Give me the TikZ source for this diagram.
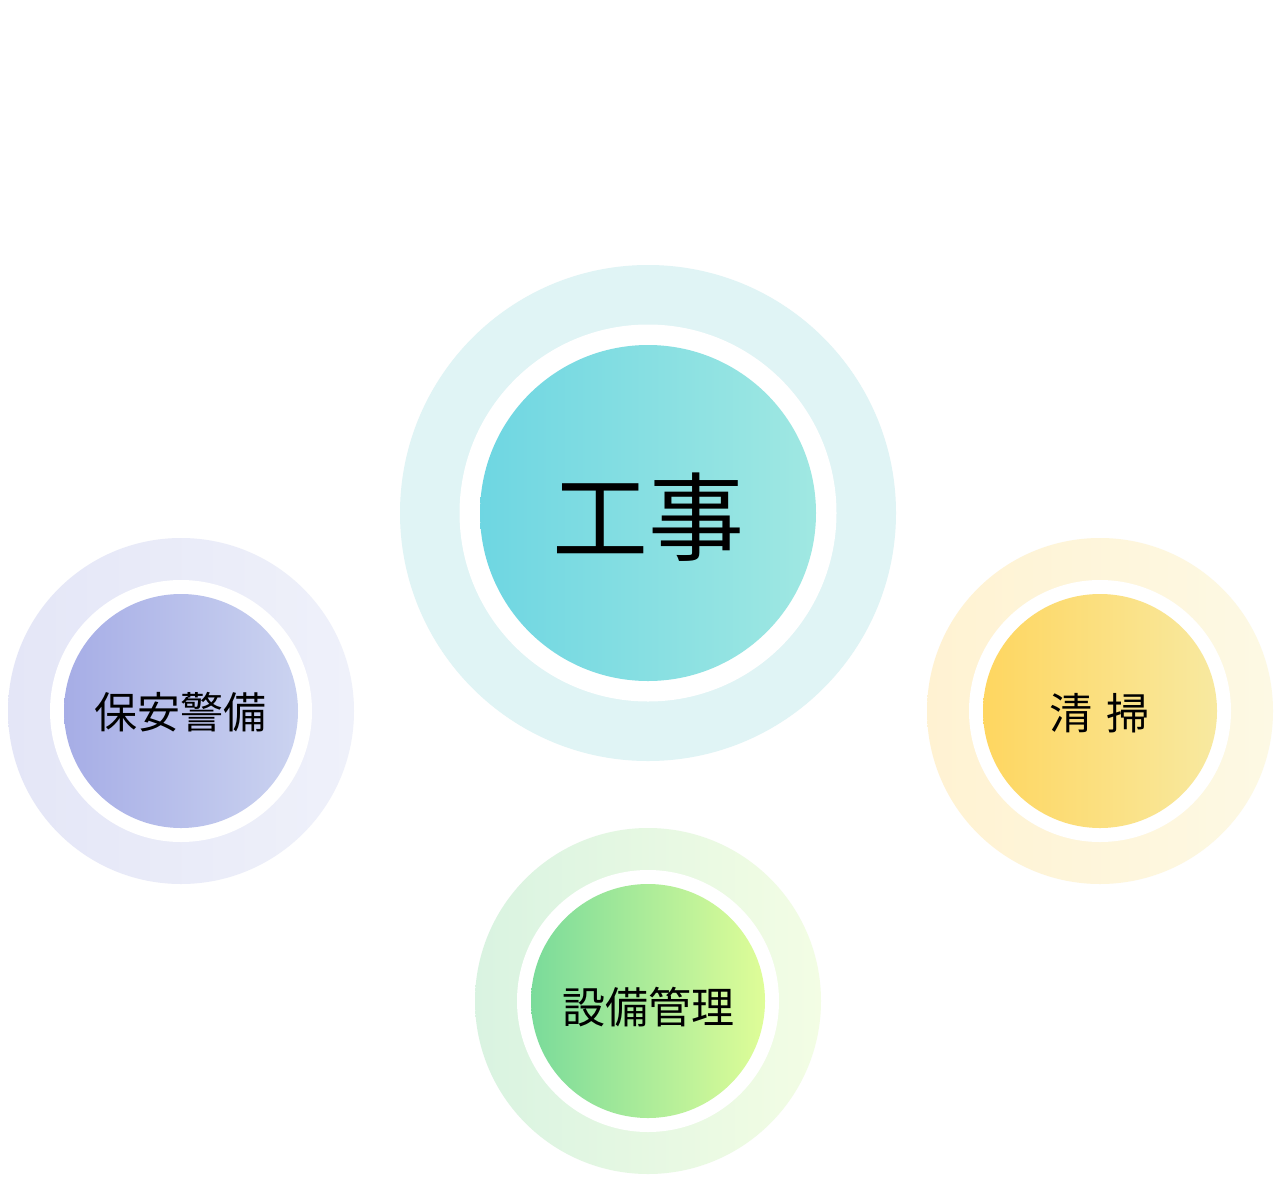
\documentclass[tikz,border=0pt]{standalone}
\usepackage{fontspec}
\newfontfamily\jp{Noto Sans CJK JP}
\definecolor{cyanL}{HTML}{6ED6E2}
\definecolor{cyanR}{HTML}{A0E8E2}
\definecolor{cyanRing}{HTML}{E0F4F5}
\definecolor{blueL}{HTML}{A6ADE6}
\definecolor{blueR}{HTML}{CBD3F0}
\definecolor{blueRingL}{HTML}{E4E6F7}
\definecolor{blueRingR}{HTML}{EFF1FA}
\definecolor{yelL}{HTML}{FED660}
\definecolor{yelR}{HTML}{F8E9A0}
\definecolor{yelRingL}{HTML}{FFF2D2}
\definecolor{yelRingR}{HTML}{FDF9E4}
\definecolor{grnL}{HTML}{7ADB9A}
\definecolor{grnR}{HTML}{DFFD98}
\definecolor{grnRingL}{HTML}{D9F3E1}
\definecolor{grnRingR}{HTML}{F3FDE4}
\tikzset{
  disc/.style={circle, inner sep=0pt, outer sep=0pt, minimum size=#1},
  gap/.style={disc=#1, fill=white},
  bigtext/.style={font=\jp\fontsize{48pt}{50pt}\selectfont, inner sep=0pt},
  smalltext/.style={font=\jp\fontsize{21.5pt}{24pt}\selectfont, inner sep=0pt},
}
\begin{document}
\begin{tikzpicture}[x=0.5pt,y=-0.5pt]
\useasboundingbox (0,0) rectangle (1280,1189);
\fill[white] (0,0) rectangle (1280,1189);
% centre: 工事
\node[disc=248pt, fill=cyanRing] (kojiRing) at (648,513) {};
\node[gap=188.5pt] (kojiGap) at (648,513) {};
\node[disc=168pt, left color=cyanL, right color=cyanR] (kojiCore) at (648,513) {};
\node[bigtext] (kojiText) at (648,517) {工事};
% left: 保安警備
\node[disc=173pt, left color=blueRingL, right color=blueRingR] (keibiRing) at (181,711) {};
\node[gap=131pt] (keibiGap) at (181,711) {};
\node[disc=117pt, left color=blueL, right color=blueR] (keibiCore) at (181,711) {};
\node[smalltext] (keibiText) at (180,712) {保安警備};
% right: 清 掃
\node[disc=173pt, left color=yelRingL, right color=yelRingR] (seisoRing) at (1100,711) {};
\node[gap=131pt] (seisoGap) at (1100,711) {};
\node[disc=117pt, left color=yelL, right color=yelR] (seisoCore) at (1100,711) {};
\node[smalltext] (seisoText) at (1099.5,713) {清\hspace{0.34em}掃};
% bottom: 設備管理
\node[disc=173pt, left color=grnRingL, right color=grnRingR] (setsubiRing) at (648,1001) {};
\node[gap=131pt] (setsubiGap) at (648,1001) {};
\node[disc=117pt, left color=grnL, right color=grnR] (setsubiCore) at (648,1001) {};
\node[smalltext] (setsubiText) at (648,1007) {設備管理};
\end{tikzpicture}
\end{document}
